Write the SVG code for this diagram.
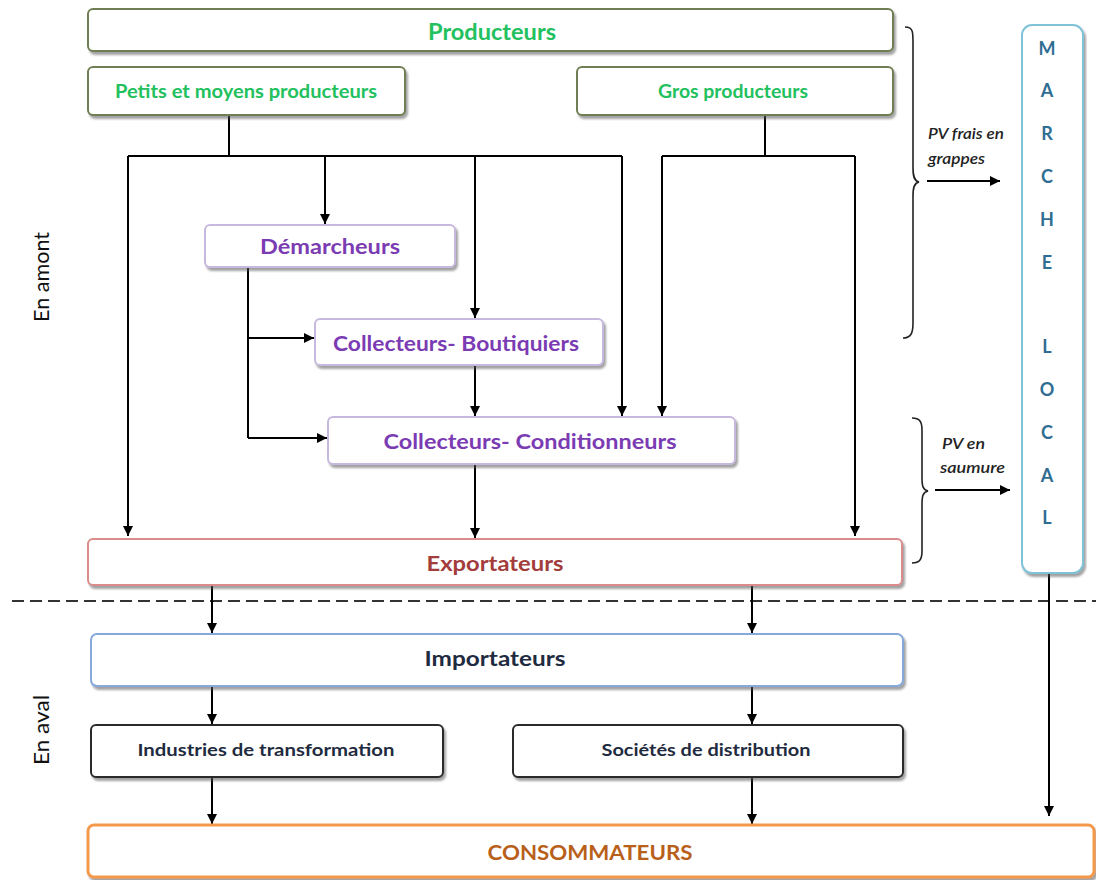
<svg xmlns="http://www.w3.org/2000/svg" width="1096" height="880" viewBox="0 0 1096 880">
  <defs>
    <filter id="shadow" x="-5%" y="-20%" width="110%" height="150%">
      <feDropShadow dx="2" dy="3" stdDeviation="1.2" flood-color="#555" flood-opacity="0.55"/>
    </filter>
    <marker id="arrow" viewBox="0 0 10 10" refX="10" refY="5" markerWidth="5" markerHeight="5" orient="auto" markerUnits="strokeWidth">
      <path d="M0,0 L10,5 L0,10 z" fill="#000"/>
    </marker>
    <style>
      .box { fill: #fff; stroke-width: 2; filter: url(#shadow); }
      .prod { stroke: #6f7f52; }
      .mid { stroke: #c7b8de; }
      .exp { stroke: #d98c8a; }
      .imp { stroke: #86a9dc; }
      .dist { stroke: #2b2b2b; }
      .cons { stroke: #f4994b; stroke-width: 3; }
      .loc { stroke: #80c2d8; }
      text { font-family: Lato, "Open Sans", "Liberation Sans", sans-serif; font-weight: bold; text-anchor: middle; dominant-baseline: central; }
      .tprod { fill: #22c15e; }
      .tmid { fill: #7a3bb3; }
      .texp { fill: #a33d3c; }
      .timp { fill: #1f2b40; }
      .tcons { fill: #b8601a; }
      .tloc { fill: #2f6e92; font-size: 18px; }
      .side { font-weight: normal; fill: #111; font-size: 21px; }
      .note { font-style: italic; font-weight: 600; fill: #222; font-size: 15px; text-anchor: start; }
      .link { fill: none; stroke: #000; stroke-width: 2; }
      .arr { marker-end: url(#arrow); }
      .brace { fill: none; stroke: #222; stroke-width: 1.6; }
      .divider { stroke: #333; stroke-width: 2; stroke-dasharray: 12 6; }
    </style>
  </defs>

  <!-- section labels -->
  <text class="side" transform="translate(40,277) rotate(-90)" textLength="90" lengthAdjust="spacingAndGlyphs">En amont</text>
  <text class="side" transform="translate(40,730) rotate(-90)" textLength="70" lengthAdjust="spacingAndGlyphs">En aval</text>

  <!-- upstream / downstream divider -->
  <line class="divider" x1="12" y1="601" x2="1096" y2="601"/>

  <!-- connectors -->
  <g id="connectors">
    <!-- small and medium producers -->
    <polyline class="link" points="229,115 229,156"/>
    <polyline class="link" points="128,156 622,156"/>
    <polyline class="link arr" points="128,156 128,536"/>
    <polyline class="link arr" points="325,156 325,224"/>
    <polyline class="link arr" points="475,156 475,318"/>
    <polyline class="link arr" points="622,156 622,416"/>
    <!-- large producers -->
    <polyline class="link" points="765,115 765,156"/>
    <polyline class="link" points="662,156 855,156"/>
    <polyline class="link arr" points="662,156 662,416"/>
    <polyline class="link arr" points="855,156 855,536"/>
    <!-- canvassers -->
    <polyline class="link" points="248,267 248,438"/>
    <polyline class="link arr" points="248,338 314,338"/>
    <polyline class="link arr" points="248,438 327,438"/>
    <!-- collectors -->
    <polyline class="link arr" points="475,365 475,416"/>
    <polyline class="link arr" points="475,464 475,538"/>
    <!-- exporters to importers -->
    <polyline class="link arr" points="212,585 212,633"/>
    <polyline class="link arr" points="752,585 752,633"/>
    <!-- importers to processors/distributors -->
    <polyline class="link arr" points="212,686 212,724"/>
    <polyline class="link arr" points="752,686 752,724"/>
    <!-- to consumers -->
    <polyline class="link arr" points="212,777 212,824"/>
    <polyline class="link arr" points="752,777 752,824"/>
    <polyline class="link arr" points="1049,573 1049,816"/>
    <!-- local market flows -->
    <polyline class="link arr" points="927,181 1000,181"/>
    <polyline class="link arr" points="935,490 1010,490"/>
  </g>

  <!-- braces -->
  <path class="brace" d="M905,27 C913,27 913,32 913,42 L913,168 C913,176 914,181 919,182 C914,183 913,188 913,196 L913,323 C913,333 911,338 903,338"/>
  <path class="brace" d="M912,418 C920,418 922,422 922,430 L922,478 C922,486 923,490 928,491 C923,492 922,496 922,504 L922,551 C922,559 920,563 912,563"/>

  <text class="note" x="928" y="133" textLength="76" lengthAdjust="spacingAndGlyphs">PV frais en</text>
  <text class="note" x="928" y="158" textLength="57" lengthAdjust="spacingAndGlyphs">grappes</text>
  <text class="note" x="942" y="443" textLength="43" lengthAdjust="spacingAndGlyphs">PV en</text>
  <text class="note" x="940" y="467" textLength="65" lengthAdjust="spacingAndGlyphs">saumure</text>

  <!-- nodes -->
  <g id="producteurs">
    <rect class="box prod" x="88" y="9" width="805" height="42" rx="5"/>
    <text class="tprod" x="492" y="31" font-size="22" textLength="128" lengthAdjust="spacingAndGlyphs">Producteurs</text>
  </g>
  <g id="petits-producteurs">
    <rect class="box prod" x="88" y="67" width="317" height="48" rx="5"/>
    <text class="tprod" x="246" y="91" font-size="18" textLength="262" lengthAdjust="spacingAndGlyphs">Petits et moyens  producteurs</text>
  </g>
  <g id="gros-producteurs">
    <rect class="box prod" x="577" y="67" width="316" height="48" rx="5"/>
    <text class="tprod" x="733" y="91" font-size="18" textLength="150" lengthAdjust="spacingAndGlyphs">Gros producteurs</text>
  </g>
  <g id="demarcheurs">
    <rect class="box mid" x="205" y="225" width="250" height="42" rx="5"/>
    <text class="tmid" x="330" y="246" font-size="20" textLength="140" lengthAdjust="spacingAndGlyphs">Démarcheurs</text>
  </g>
  <g id="collecteurs-boutiquiers">
    <rect class="box mid" x="315" y="319" width="288" height="46" rx="5"/>
    <text class="tmid" x="456" y="342" font-size="21" textLength="246" lengthAdjust="spacingAndGlyphs">Collecteurs- Boutiquiers</text>
  </g>
  <g id="collecteurs-conditionneurs">
    <rect class="box mid" x="328" y="417" width="407" height="47" rx="5"/>
    <text class="tmid" x="530" y="440" font-size="21" textLength="293" lengthAdjust="spacingAndGlyphs">Collecteurs- Conditionneurs</text>
  </g>
  <g id="exportateurs">
    <rect class="box exp" x="88" y="539" width="814" height="46" rx="5"/>
    <text class="texp" x="495" y="562" font-size="21" textLength="137" lengthAdjust="spacingAndGlyphs">Exportateurs</text>
  </g>
  <g id="marche-local">
    <rect class="box loc" x="1022" y="25" width="61" height="548" rx="10"/>
    <text class="tloc" x="1047" y="48">M</text>
    <text class="tloc" x="1047" y="90">A</text>
    <text class="tloc" x="1047" y="133">R</text>
    <text class="tloc" x="1047" y="176">C</text>
    <text class="tloc" x="1047" y="219">H</text>
    <text class="tloc" x="1047" y="262">E</text>
    <text class="tloc" x="1047" y="346">L</text>
    <text class="tloc" x="1047" y="389">O</text>
    <text class="tloc" x="1047" y="432">C</text>
    <text class="tloc" x="1047" y="475">A</text>
    <text class="tloc" x="1047" y="517">L</text>
  </g>
  <g id="importateurs">
    <rect class="box imp" x="91" y="634" width="812" height="52" rx="6"/>
    <text class="timp" x="495" y="657" font-size="21" textLength="141" lengthAdjust="spacingAndGlyphs">Importateurs</text>
  </g>
  <g id="industries">
    <rect class="box dist" x="91" y="725" width="352" height="52" rx="5"/>
    <text class="timp" x="266" y="749" font-size="17" textLength="257" lengthAdjust="spacingAndGlyphs">Industries  de  transformation</text>
  </g>
  <g id="societes">
    <rect class="box dist" x="513" y="725" width="390" height="52" rx="5"/>
    <text class="timp" x="706" y="749" font-size="17" textLength="209" lengthAdjust="spacingAndGlyphs">Sociétés de distribution</text>
  </g>
  <g id="consommateurs">
    <rect class="box cons" x="88" y="825" width="1006" height="52" rx="6"/>
    <text class="tcons" x="590" y="851" font-size="21" textLength="205" lengthAdjust="spacingAndGlyphs">CONSOMMATEURS</text>
  </g>
</svg>
